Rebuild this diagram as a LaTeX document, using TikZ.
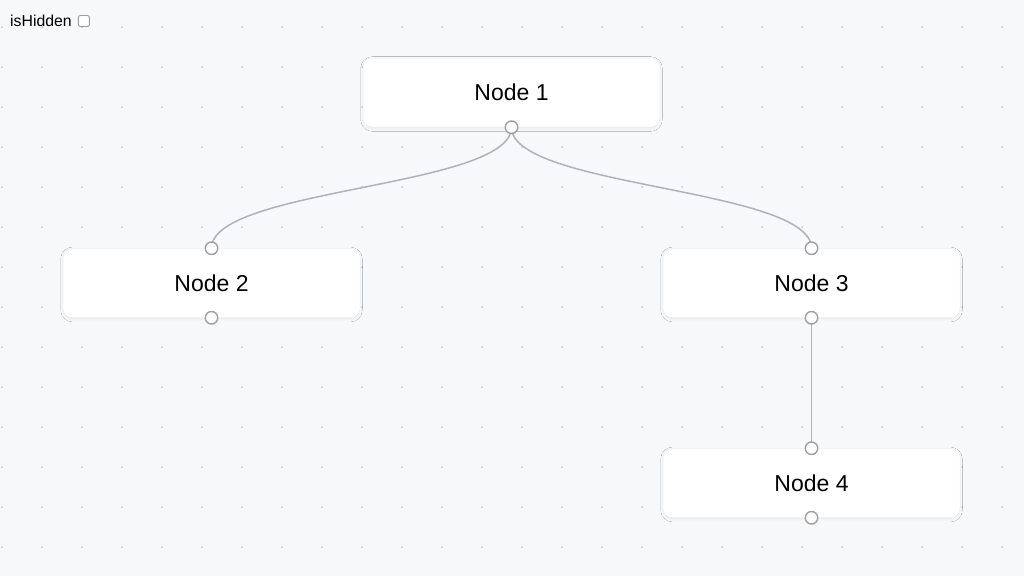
\documentclass[tikz,border=0pt]{standalone}
\usepackage{fontspec}
\setmainfont{Liberation Sans}
\usetikzlibrary{shadows.blur}
\definecolor{bgc}{HTML}{F7F8FA}
\definecolor{dotc}{HTML}{9A9AA2}
\definecolor{edgec}{HTML}{B1B1B7}
\definecolor{handlec}{HTML}{9E9E9E}
\definecolor{boxline}{HTML}{ECEDF0}
\tikzset{
  flownode/.style={rectangle, rounded corners=9pt, minimum width=297pt, minimum height=69pt,
    inner sep=0pt, fill=white, draw=boxline, line width=0.5pt,
    font=\fontsize{23}{27}\selectfont,
    blur shadow={shadow xshift=0pt, shadow yshift=-1.5pt, shadow blur radius=3pt, shadow opacity=7, shadow blur steps=10, shadow scale=0.995}},
  handle/.style={circle, minimum size=12.5pt, inner sep=0pt, fill=white, draw=handlec, line width=1.4pt},
  edge/.style={draw=edgec, line width=1.5pt},
  dotmark/.style={fill=dotc},
  checkbox/.style={rectangle, rounded corners=2pt, minimum width=11pt, minimum height=11pt, inner sep=0pt, draw=handlec, line width=0.9pt, fill=white},
  label/.style={font=\fontsize{15.8}{19}\selectfont, inner sep=0pt}
}
\begin{document}
\begin{tikzpicture}[x=1pt,y=-1pt]
\useasboundingbox (0,0) rectangle (1024,576);
\fill[bgc] (0,0) rectangle (1024,576);
\foreach \i in {0,...,25}{
  \foreach \j in {0,...,13}{
    \fill[dotmark] ({2+40*\i},{27+40*\j}) circle[radius=0.75pt];
  }
}
\node[label, anchor=base west] (hid) at (10,26.5) {isHidden};
\node[checkbox, anchor=west] (cb) at ([xshift=6pt]hid.east |- 0,21) {};

\node[flownode] (n1) at (511.5,92.5) {Node 1};
\node[flownode] (n2) at (211.5,283) {Node 2};
\node[flownode] (n3) at (811.5,283) {Node 3};
\node[flownode] (n4) at (811.5,483) {Node 4};

\coordinate (h1s) at (n1.south);
\coordinate (h2n) at (n2.north);
\coordinate (h2s) at (n2.south);
\coordinate (h3n) at (n3.north);
\coordinate (h3s) at (n3.south);
\coordinate (h4n) at (n4.north);
\coordinate (h4s) at (n4.south);

\draw[edge] (h1s) .. controls +(0,60.5) and +(0,-60.5) .. (h2n);
\draw[edge] (h1s) .. controls +(0,60.5) and +(0,-60.5) .. (h3n);
\draw[edge] (h3s) -- (h4n);

\foreach \h in {h1s,h2n,h2s,h3n,h3s,h4n,h4s}{
  \node[handle] at (\h) {};
}
\end{tikzpicture}
\end{document}
